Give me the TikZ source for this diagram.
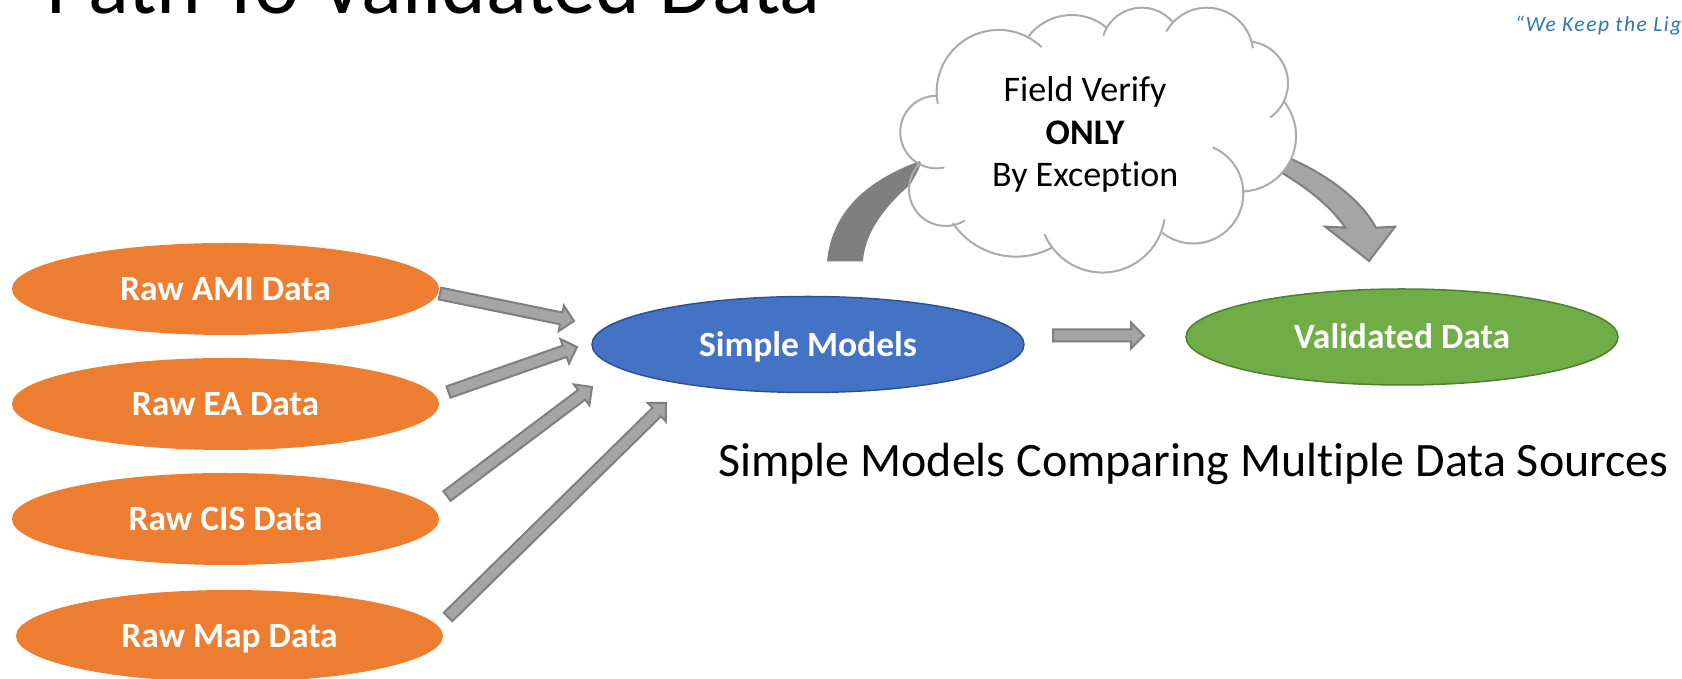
\documentclass[tikz,border=0pt]{standalone}
\usepackage{fontspec}
\setmainfont{Carlito}[Ligatures=CommonOff]
\usetikzlibrary{calc,shapes.geometric}
\definecolor{orangefill}{HTML}{ED7D31}
\definecolor{bluefill}{HTML}{4472C4}
\definecolor{blueline}{HTML}{2F528F}
\definecolor{greenfill}{HTML}{70AD47}
\definecolor{greenline}{HTML}{507E32}
\definecolor{arrowfill}{HTML}{A5A5A5}
\definecolor{arrowline}{HTML}{7F7F7F}
\definecolor{cloudline}{HTML}{ABABAB}
\definecolor{logoblue}{HTML}{2E75B6}
\tikzset{
  blob/.style={ellipse,inner sep=0pt,text=white,text height=30pt,text depth=6pt,font=\fontsize{35.5}{40}\selectfont\bfseries},
  source/.style={blob,fill=orangefill,minimum width=427pt,minimum height=92pt},
  model/.style={blob,draw=blueline,line width=1.5pt,fill=bluefill,minimum width=432pt,minimum height=96pt},
  result/.style={blob,draw=greenline,line width=1.5pt,fill=greenfill,minimum width=432pt,minimum height=96pt},
  blockarr/.style={draw=arrowline,fill=arrowfill,line width=2pt,line join=miter},
  cloudarc/.style={draw=cloudline,line width=2pt,line cap=round},
  plain/.style={inner sep=0pt,anchor=base,text=black},
}
\newcommand{\blockarrow}[4]{% from, to, half shaft, half head (head length = half head)
  \draw[blockarr] let \p1=($(#2)-(#1)$), \n1={atan2(\y1,\x1)}, \n2={veclen(\x1,\y1)} in
    ($(#1)+(\n1+90:#3)$) -- ($(#1)+(\n1:\n2-#4)+(\n1+90:#3)$) -- ($(#1)+(\n1:\n2-#4)+(\n1+90:#4)$)
    -- (#2) -- ($(#1)+(\n1:\n2-#4)+(\n1-90:#4)$) -- ($(#1)+(\n1:\n2-#4)+(\n1-90:#3)$) -- ($(#1)+(\n1-90:#3)$) -- cycle;
}
% one arc of the cloud: the circle through three points given in crop coordinates, clockwise
\newcommand{\lobe}[6]{%
  \pgfmathsetmacro\lbx{((#3)-(#1))*0.003827}%
  \pgfmathsetmacro\lby{-((#4)-(#2))*0.003333}%
  \pgfmathsetmacro\lcx{((#5)-(#1))*0.003827}%
  \pgfmathsetmacro\lcy{-((#6)-(#2))*0.003333}%
  \pgfmathsetmacro\ld{2*(\lbx*\lcy-\lby*\lcx)}%
  \pgfmathsetmacro\lb{\lbx*\lbx+\lby*\lby}%
  \pgfmathsetmacro\lc{\lcx*\lcx+\lcy*\lcy}%
  \pgfmathsetmacro\lux{(\lcy*\lb-\lby*\lc)/\ld}%
  \pgfmathsetmacro\luy{(\lbx*\lc-\lcx*\lb)/\ld}%
  \pgfmathsetmacro\lr{100*sqrt(\lux*\lux+\luy*\luy)}%
  \pgfmathsetmacro\laa{atan2(-\luy,-\lux)}%
  \pgfmathsetmacro\lab{atan2(\lcy-\luy,\lcx-\lux)}%
  \pgfmathsetmacro\lab{\lab>\laa ? \lab-360 : \lab}%
  \draw[cloudarc] ({800+(#1)*0.3827},{679-(#2)*0.3333}) arc[start angle=\laa,end angle=\lab,radius=\lr];%
}
\begin{document}
\begin{tikzpicture}[x=1pt,y=1pt]
\useasboundingbox (0,0) rectangle (1682,679);
\begin{scope}
\clip (0,0) rectangle (1682,679);
\node[plain,anchor=base west,font=\fontsize{85}{85}\selectfont] (title) at (46,665.5) {Path To Validated Data};
\node[plain,anchor=base west,text=logoblue,font=\fontsize{21.5}{22}\selectfont\itshape\addfontfeatures{LetterSpace=7}] (logo) at (1515,647) {``We Keep the Lig};
\node[source] (ami) at (225.5,390) {Raw AMI Data};
\node[source] (ea) at (225.5,275) {Raw EA Data};
\node[source] (cis) at (225.5,160) {Raw CIS Data};
\node[source] (map) at (229.5,43) {Raw Map Data};
\end{scope}
\node[model] (models) at (808,334.5) {Simple Models};
\node[result] (valid) at (1402,342) {Validated Data};
\node[plain,font=\fontsize{48}{48}\selectfont] (caption) at (1193.5,202) {Simple Models Comparing Multiple Data Sources};
% straight block arrows
\coordinate (a1) at (440,385.4); \coordinate (a2) at (574,358);
\coordinate (e1) at (448.5,287); \coordinate (e2) at (577,332);
\coordinate (c1) at (447,183); \coordinate (c2) at (592,292);
\coordinate (m1) at (448,62); \coordinate (m2) at (666,276);
\coordinate (v1) at (1053,343.5); \coordinate (v2) at (1144,343.5);
\blockarrow{a1}{a2}{6}{13}
\blockarrow{e1}{e2}{6}{13}
\blockarrow{c1}{c2}{6}{13}
\blockarrow{m1}{m2}{6}{13}
\blockarrow{v1}{v2}{6}{13}
% curved arrows and the white of the cloud, in the coordinates of a 3x crop
\begin{scope}[x={(0.3827pt,0pt)},y={(0pt,-0.3333pt)},shift={(800pt,679pt)}]
\draw[draw=arrowline,fill=arrowline,line width=1pt] (72,783) .. controls (85,640) and (170,540) .. (330,478)
  -- (310,530) .. controls (225,610) and (170,690) .. (163,783) -- cycle;
\draw[blockarr] (1270,470) .. controls (1370,520) and (1460,590) .. (1505,683) -- (1555,680) -- (1487,783) -- (1372,680) -- (1425,683)
  .. controls (1380,610) and (1320,560) .. (1240,505) -- cycle;
\fill[white] plot[smooth cycle,tension=0.5] coordinates {(262,390)(300,310)(358,287)(375,180)(430,120)(510,93)(598,108)(650,62)(710,45)(800,82)(820,55)(890,23)(975,68)(1000,40)(1065,23)(1130,45)(1180,125)(1240,170)(1275,250)(1265,305)(1295,370)(1295,450)(1260,515)(1160,575)(1140,640)(1090,695)(1020,720)(948,700)(910,770)(850,810)(790,818)(720,805)(660,742)(610,765)(560,770)(480,750)(400,670)(330,650)(290,600)(285,565)(315,488)(275,450)};
\end{scope}
\lobe{375}{503}{262}{390}{358}{287}
\lobe{360}{310}{430}{120}{630}{140}
\lobe{598}{108}{710}{45}{800}{82}
\lobe{793}{105}{890}{23}{975}{68}
\lobe{958}{93}{1065}{23}{1183}{143}
\lobe{1180}{125}{1275}{250}{1230}{352}
\lobe{1265}{305}{1295}{430}{1160}{575}
\lobe{1080}{443}{1158}{570}{948}{700}
\lobe{952}{660}{790}{818}{640}{705}
\lobe{660}{742}{560}{770}{400}{670}
\lobe{430}{662}{285}{565}{315}{488}
\begin{scope}[x={(0.3827pt,0pt)},y={(0pt,-0.3333pt)},shift={(800pt,679pt)}]
\node[plain] (cl1) at (745,305) {\fontsize{36}{36}\selectfont Field Verify};
\node[plain] (cl2) at (745,435) {\fontsize{36}{36}\selectfont\bfseries ONLY};
\node[plain] (cl3) at (745,560) {\fontsize{36}{36}\selectfont By Exception};
\end{scope}
\end{tikzpicture}
\end{document}
